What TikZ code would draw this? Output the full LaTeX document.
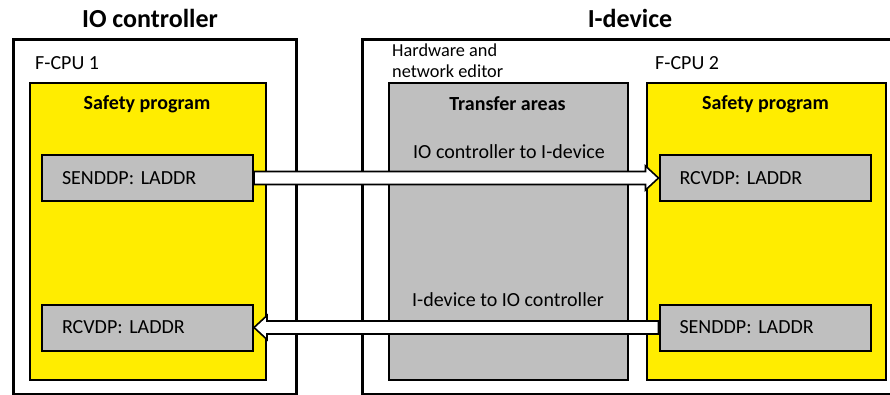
\documentclass[tikz,border=0pt]{standalone}
\usepackage{fontspec}
\setmainfont{Carlito}
\usetikzlibrary{calc}
\definecolor{safetyyellow}{RGB}{255,237,0}
\definecolor{areagray}{RGB}{191,191,191}
\frenchspacing
\begin{document}
\begin{tikzpicture}[x=1pt,y=-1pt,
  frame/.style={draw=black, line width=2.6pt, anchor=north west, inner sep=0pt},
  prog/.style={draw=black, line width=2pt, fill=safetyyellow, anchor=north west, inner sep=0pt},
  area/.style={draw=black, line width=2pt, fill=areagray, anchor=north west, inner sep=0pt},
  dpbox/.style={draw=black, line width=2pt, fill=areagray, minimum width=211pt,
    minimum height=46pt, text width=171pt, inner xsep=20pt, inner ysep=0pt, align=left,
    font=\fontsize{20}{24}\selectfont},
  title/.style={font=\fontsize{26}{30}\selectfont\bfseries, inner sep=0pt},
  head/.style={font=\fontsize{20}{24}\selectfont\bfseries, inner sep=0pt},
  plain/.style={font=\fontsize{20}{24}\selectfont, inner sep=0pt},
  small/.style={font=\fontsize{18.3}{21}\selectfont, align=left, inner sep=0pt},
  flow/.style={draw=black, line width=1.6pt, fill=white, line join=miter}]

\useasboundingbox (0,0) rectangle (890,394);

% device frames
\node[frame, minimum width=283pt, minimum height=355pt] (ctrl) at (12,38) {};
\node[frame, minimum width=545pt, minimum height=355pt] (idev) at (361,38) {};
\node[title] (ctrltitle) at (150,18) {IO controller};
\node[title] (idevtitle) at (630,18) {I-device};

% CPU labels
\node[plain, anchor=west] (cpu1) at (35,63) {F-CPU 1};
\node[plain, anchor=west] (cpu2) at (655,63) {F-CPU 2};
\node[small, anchor=west] (hwne) at (392,61) {Hardware and\\network editor};

% programs and transfer areas
\node[prog, minimum width=236pt, minimum height=297pt] (prog1) at (29,82) {};
\node[area, minimum width=239pt, minimum height=297pt] (xfer) at (388,82) {};
\node[prog, minimum width=239pt, minimum height=297pt] (prog2) at (646,82) {};
\node[head] (prog1lbl) at (147,104) {Safety program};
\node[head] (xferlbl) at (507.5,104) {Transfer areas};
\node[head] (prog2lbl) at (765.5,104) {Safety program};
\node[plain] (dir1) at (509,152) {IO controller to I-device};
\node[plain] (dir2) at (508,300) {I-device to IO controller};

% data blocks
\node[dpbox] (s1) at (147.5,178) {SENDDP: LADDR};
\node[dpbox] (r2) at (765,178) {RCVDP: LADDR};
\node[dpbox] (r1) at (147.5,327.5) {RCVDP: LADDR};
\node[dpbox] (s2) at (765,327.5) {SENDDP: LADDR};

% block arrows
\filldraw[flow] let \p1=(s1.east), \p2=(r2.west) in
  (\x1,\y1+6.5pt) -- (\x2-13pt,\y1+6.5pt) -- (\x2-13pt,\y1+12pt) -- (\x2,\y1)
  -- (\x2-13pt,\y1-12pt) -- (\x2-13pt,\y1-6.5pt) -- (\x1,\y1-6.5pt) -- cycle;
\filldraw[flow] let \p1=(s2.west), \p2=(r1.east) in
  (\x1,\y1+6.5pt) -- (\x2+13pt,\y1+6.5pt) -- (\x2+13pt,\y1+12pt) -- (\x2,\y1)
  -- (\x2+13pt,\y1-12pt) -- (\x2+13pt,\y1-6.5pt) -- (\x1,\y1-6.5pt) -- cycle;
\end{tikzpicture}
\end{document}
